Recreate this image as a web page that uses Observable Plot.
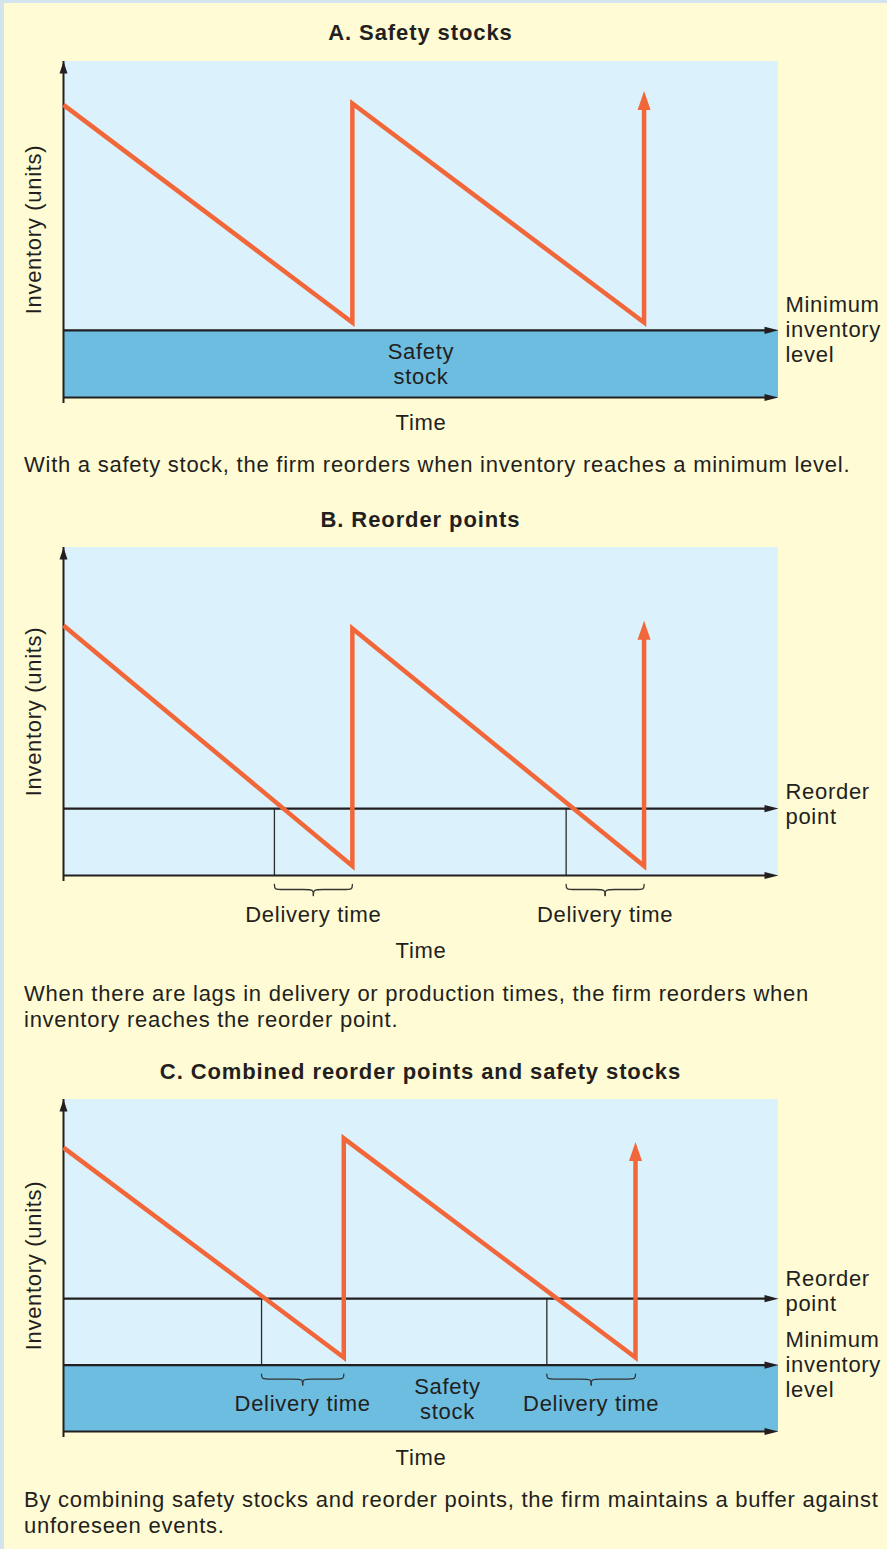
<!DOCTYPE html>
<html>
<head>
<meta charset="utf-8">
<script src="https://cdn.jsdelivr.net/npm/d3@7"></script>
<script src="https://cdn.jsdelivr.net/npm/@observablehq/plot@0.6"></script>
<style>
  body { margin: 0; background: #fffbd4; }
  #page { position: relative; width: 887px; height: 1549px; overflow: hidden; background: #fffbd4;
          font-family: "Liberation Sans", Arial, Helvetica, sans-serif; color: #231f20; }
  .edge-left { position: absolute; left: 0; top: 0; width: 4px; height: 100%; background: #d3e4ee; }
  .edge-top { position: absolute; left: 0; top: 0; width: 100%; height: 3px; background: #d3e4ee; }
  .title { position: absolute; left: 0; width: 841px; text-align: center; font-weight: bold; font-size: 22px;
           line-height: 26px; letter-spacing: 0.9px; white-space: nowrap; }
  .caption { position: absolute; left: 24px; font-size: 22px; line-height: 26px; letter-spacing: 0.75px; white-space: nowrap; }
  .panel { position: absolute; left: 0; }
  .panel svg { overflow: visible; }
</style>
</head>
<body>
<div id="page">
  <div class="edge-left"></div>
  <div class="edge-top"></div>
  <div class="title" id="titleA" style="top:20px"></div>
  <div class="panel" id="panelA"></div>
  <div class="caption" id="capA" style="top:452px"></div>
  <div class="title" id="titleB" style="top:507px"></div>
  <div class="panel" id="panelB"></div>
  <div class="caption" id="capB" style="top:981px"></div>
  <div class="title" id="titleC" style="top:1059px"></div>
  <div class="panel" id="panelC"></div>
  <div class="caption" id="capC" style="top:1487px"></div>
</div>
<script>
// ---------------- data ----------------
const timeMax = 10;          // time axis extent (arbitrary units)
const inventoryMax = 100;    // inventory axis extent (arbitrary units)

// Panel A: safety stocks
const sawTimeA = [0, 4.04, 4.04, 8.12, 8.12];
const sawInvA  = [87.1, 22.3, 87.5, 22.3, 91.2];
const minLevelA = 20;

// Panel B: reorder points
const sawTimeB = [0, 4.04, 4.04, 8.12, 8.12];
const sawInvB  = [76.2, 2.9, 75.3, 2.9, 77.7];
const reorderLevelB = 20.4;
const reorderTimesB = [2.95, 7.03];
const deliveryEndsB = [4.04, 8.12];

// Panel C: combined
const sawTimeC = [0, 3.92, 3.92, 8.0, 8.0];
const sawInvC  = [85.5, 22.3, 88.3, 22.3, 87.2];
const minLevelC = 20;
const reorderLevelC = 40;
const reorderTimesC = [2.77, 6.76];
const deliveryEndsC = [3.92, 8.0];

// text
const titles = ["A. Safety stocks", "B. Reorder points", "C. Combined reorder points and safety stocks"];
const captions = [
  ["With a safety stock, the firm reorders when inventory reaches a minimum level."],
  ["When there are lags in delivery or production times, the firm reorders when", "inventory reaches the reorder point."],
  ["By combining safety stocks and reorder points, the firm maintains a buffer against", "unforeseen events."]
];
const yLabel = "Inventory (units)";
const xLabel = "Time";
const minLabel = "Minimum\ninventory\nlevel";
const reorderLabel = "Reorder\npoint";
const safetyLabel = "Safety\nstock";
const deliveryLabel = "Delivery time";

// ---------------- styles ----------------
const ink = "#231f20";
const orange = "#f2673a";
const skyLight = "#dbf1fc";
const skyDark = "#6cbde0";
const font = "'Liberation Sans', Arial, Helvetica, sans-serif";

function heads(data, o) {
  if (typeof Plot.spike === "function") {
    return Plot.vector(data, {x: o.x, y: o.y, rotate: o.rotate, length: o.length, r: o.r,
      anchor: "end", shape: "spike", fill: o.fill, stroke: "none"});
  }
  return Plot.text(data, {x: o.x, y: o.y, text: () => (o.rotate === 0 ? "\u25B2" : "\u25B6"),
    fill: o.fill, fontSize: o.length * 1.1, dy: o.rotate === 0 ? o.length / 2 : 0, dx: o.rotate === 0 ? 0 : -o.length / 2});
}

function drawPanel(p) {
  const L = p.layout;
  const ppu = (L.axisY - L.frameTop) / inventoryMax;       // px per inventory unit
  const py = px => (L.axisY - px) / ppu;                    // page y (px) -> inventory units
  const yLow = py(L.svgBottom);
  const saw = p.time.map((t, i) => ({t, inv: p.inv[i]}));
  const tip = saw[saw.length - 1];
  const shaft = saw.slice(0, -1).concat([{t: tip.t, inv: tip.inv - 14 / ppu}]);
  const hasMin = p.minLevel != null, hasReorder = p.reorderLevel != null;
  const base = hasMin ? p.minLevel : 0;
  const hLevels = [0].concat(hasMin ? [p.minLevel] : [], hasReorder ? [p.reorderLevel] : []);

  const marks = [
    Plot.rect([0], {x1: () => 0, x2: () => timeMax, y1: () => 0, y2: () => inventoryMax, fill: skyLight}),
  ];
  if (hasMin) marks.push(Plot.rect([0], {x1: () => 0, x2: () => timeMax, y1: () => 0, y2: () => p.minLevel, fill: skyDark}));
  if (hasReorder) {
    marks.push(Plot.ruleX(p.reorderTimes, {x: d => d, y1: () => base, y2: () => p.reorderLevel, stroke: "#2b2b2b", strokeWidth: 1.3}));
    const brace = [];
    const e = 0.1;
    const yTop = base - 9 / ppu, yFlat = base - 14 / ppu, yTip = base - 20 / ppu;
    p.reorderTimes.forEach((x1, i) => {
      const x2 = p.deliveryEnds[i], xm = (x1 + x2) / 2;
      [[x1, 1], [x2, -1]].forEach(([xs, s], k) => {
        const id = i * 2 + k;
        [[xs, yTop], [xs, yFlat], [xs + s * e, yFlat], [xm - s * e, yFlat], [xm, yFlat], [xm, yTip]]
          .forEach(([x, y]) => brace.push({id, x, y}));
      });
    });
    marks.push(Plot.line(brace, {x: "x", y: "y", z: "id", curve: "basis", stroke: "#333", strokeWidth: 1.3}));
    marks.push(Plot.text(p.reorderTimes.map((x1, i) => (x1 + p.deliveryEnds[i]) / 2),
      {x: d => d, y: () => base - 39 / ppu, text: () => deliveryLabel, fontSize: 22, fill: ink}));
    marks.push(Plot.text([reorderLabel], {x: () => timeMax, y: () => p.reorderLevel, dx: 7, dy: L.reorderDy,
      textAnchor: "start", lineHeight: 25 / 22, fontSize: 22, fill: ink}));
  }
  // axes & level lines
  marks.push(Plot.ruleY(hLevels, {y: d => d, x1: () => 0, x2: () => timeMax, insetRight: 8, stroke: ink, strokeWidth: 2.2}));
  marks.push(Plot.ruleX([0], {x: d => d, y1: () => 0, y2: () => inventoryMax, insetTop: 6, stroke: ink, strokeWidth: 2}));
  marks.push(heads(hLevels, {x: () => timeMax, y: d => d, rotate: 90, length: 14, r: 3.6, fill: ink}));
  marks.push(heads([0], {x: () => 0, y: () => inventoryMax, rotate: 0, length: 12, r: 4, fill: ink}));
  // sawtooth inventory
  marks.push(Plot.line(shaft, {x: "t", y: "inv", stroke: orange, strokeWidth: 4.5,
    strokeLinejoin: "miter", strokeLinecap: "butt", strokeMiterlimit: 10}));
  marks.push(heads([tip], {x: "t", y: "inv", rotate: 0, length: 19, r: 6.5, fill: orange}));
  // labels
  if (hasMin) {
    marks.push(Plot.text([safetyLabel], {x: () => L.safetyX, y: () => p.minLevel / 2, lineHeight: 25 / 22, fontSize: 22, fill: ink}));
    marks.push(Plot.text([minLabel], {x: () => timeMax, y: () => p.minLevel, dx: 7, dy: -1,
      textAnchor: "start", lineHeight: 25 / 22, fontSize: 22, fill: ink}));
  }
  marks.push(Plot.text([xLabel], {x: () => timeMax / 2, y: () => py(L.timeY), fontSize: 22, fill: ink}));
  marks.push(Plot.text([yLabel], {x: () => 0, y: () => inventoryMax / 2, rotate: -90, dx: -30, fontSize: 22, fill: ink}));

  const chart = Plot.plot({
    width: 887,
    height: L.svgBottom - L.svgTop,
    marginLeft: 63, marginRight: 109,
    marginTop: L.frameTop - L.svgTop, marginBottom: 0,
    x: {domain: [0, timeMax], axis: null},
    y: {domain: [yLow, inventoryMax], axis: null},
    style: {background: "none", overflow: "visible", fontFamily: font, letterSpacing: "0.7px"},
    marks
  });
  const holder = document.getElementById(p.id);
  holder.style.top = L.svgTop + "px";
  holder.appendChild(chart);
}

// titles and captions
["A", "B", "C"].forEach((k, i) => {
  document.getElementById("title" + k).textContent = titles[i];
  const cap = document.getElementById("cap" + k);
  captions[i].forEach((line, j) => {
    if (j) cap.appendChild(document.createElement("br"));
    cap.appendChild(document.createTextNode(line));
  });
});

drawPanel({id: "panelA", time: sawTimeA, inv: sawInvA, minLevel: minLevelA,
  layout: {svgTop: 45, svgBottom: 445, frameTop: 61, axisY: 397, timeY: 422, safetyX: 5}});
drawPanel({id: "panelB", time: sawTimeB, inv: sawInvB, reorderLevel: reorderLevelB,
  reorderTimes: reorderTimesB, deliveryEnds: deliveryEndsB,
  layout: {svgTop: 535, svgBottom: 965, frameTop: 547, axisY: 875, timeY: 950, reorderDy: -5.5}});
drawPanel({id: "panelC", time: sawTimeC, inv: sawInvC, minLevel: minLevelC, reorderLevel: reorderLevelC,
  reorderTimes: reorderTimesC, deliveryEnds: deliveryEndsC,
  layout: {svgTop: 1085, svgBottom: 1470, frameTop: 1099, axisY: 1431, timeY: 1457, reorderDy: -8, safetyX: 5.37}});
</script>
</body>
</html>
